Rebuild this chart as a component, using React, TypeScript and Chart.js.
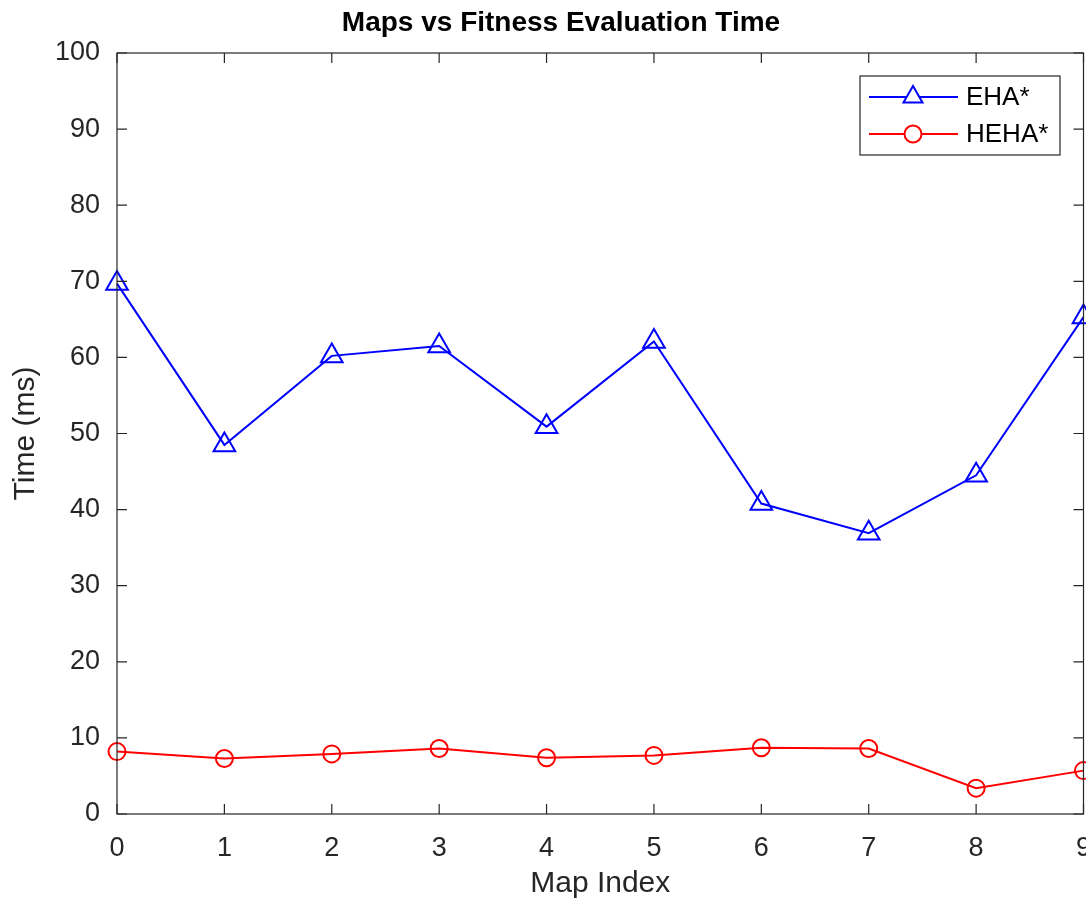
import { useEffect, useRef } from "react";
import { Chart, registerables } from "chart.js";

Chart.register(...registerables);

const mapIndex = ["0", "1", "2", "3", "4", "5", "6", "7", "8", "9"];
const ehaTimes = [69.7, 48.5, 60.2, 61.5, 50.9, 62.1, 40.8, 36.9, 44.5, 65.3];
const hehaTimes = [8.2, 7.3, 7.9, 8.6, 7.4, 7.7, 8.7, 8.6, 3.4, 5.7];
const seriesNames = ["EHA*", "HEHA*"];
const chartTitle = "Maps vs Fitness Evaluation Time";
const xTitle = "Map Index";
const yTitle = "Time (ms)";

const FONT = "'Liberation Sans', Arial, Helvetica, sans-serif";
const AXIS = "#262626";
const CANVAS_W = 1098;
const CANVAS_H = 912;

const framePlugin = {
  id: "matlabFrame",
  afterDraw(chart: any) {
    const { ctx, chartArea } = chart;
    const { left, right, top, bottom } = chartArea;
    const xs = chart.scales.x;
    const ys = chart.scales.y;
    ctx.save();
    ctx.strokeStyle = AXIS;
    ctx.lineWidth = 1.2;
    ctx.strokeRect(left, top, right - left, bottom - top);
    const tl = 10;
    ctx.beginPath();
    xs.ticks.forEach((_t: any, i: number) => {
      const px = xs.getPixelForTick(i);
      ctx.moveTo(px, bottom);
      ctx.lineTo(px, bottom - tl);
      ctx.moveTo(px, top);
      ctx.lineTo(px, top + tl);
    });
    ys.ticks.forEach((t: any) => {
      const py = ys.getPixelForValue(t.value);
      ctx.moveTo(left, py);
      ctx.lineTo(left + tl, py);
      ctx.moveTo(right, py);
      ctx.lineTo(right - tl, py);
    });
    ctx.stroke();

    // title
    ctx.fillStyle = "#000";
    ctx.font = `bold 28px ${FONT}`;
    ctx.textAlign = "center";
    ctx.textBaseline = "middle";
    ctx.fillText(chartTitle, 561, 23);

    // legend
    const bx = 860, by = 76, bw = 200, bh = 79;
    ctx.fillStyle = "#fff";
    ctx.fillRect(bx, by, bw, bh);
    ctx.strokeStyle = AXIS;
    ctx.lineWidth = 1.2;
    ctx.strokeRect(bx, by, bw, bh);
    const rows = [97, 134];
    chart.data.datasets.forEach((ds: any, i: number) => {
      const y = rows[i];
      ctx.strokeStyle = ds.borderColor;
      ctx.lineWidth = ds.borderWidth;
      ctx.beginPath();
      ctx.moveTo(869, y);
      ctx.lineTo(958, y);
      ctx.stroke();
      const style = ds.pointStyle;
      const r = style === "triangle" ? 11 : 8.5;
      ctx.lineWidth = ds.pointBorderWidth;
      ctx.beginPath();
      if (style === "triangle") {
        ctx.moveTo(913, y - r);
        ctx.lineTo(913 + r * 0.866, y + r * 0.5);
        ctx.lineTo(913 - r * 0.866, y + r * 0.5);
        ctx.closePath();
      } else {
        ctx.arc(913, y, r, 0, Math.PI * 2);
      }
      ctx.fillStyle = "#fff";
      ctx.fill();
      ctx.stroke();
      ctx.fillStyle = "#000";
      ctx.font = `26px ${FONT}`;
      ctx.textAlign = "left";
      ctx.textBaseline = "middle";
      ctx.fillText(ds.label, 966, y + 1);
    });
    ctx.restore();
  },
};

export default function App() {
  const ref = useRef<HTMLCanvasElement | null>(null);
  useEffect(() => {
    if (!ref.current) return;
    const chart = new Chart(ref.current, {
      type: "line",
      data: {
        labels: mapIndex,
        datasets: [
          {
            label: seriesNames[0],
            data: ehaTimes,
            borderColor: "#0000ff",
            backgroundColor: "rgba(0,0,0,0)",
            borderWidth: 2,
            pointStyle: "triangle",
            pointRadius: 12.5,
            pointBorderWidth: 2,
            pointBorderColor: "#0000ff",
            pointBackgroundColor: "rgba(0,0,0,0)",
            tension: 0,
          },
          {
            label: seriesNames[1],
            data: hehaTimes,
            borderColor: "#ff0000",
            backgroundColor: "rgba(0,0,0,0)",
            borderWidth: 2,
            pointStyle: "circle",
            pointRadius: 8.5,
            pointBorderWidth: 2,
            pointBorderColor: "#ff0000",
            pointBackgroundColor: "rgba(0,0,0,0)",
            tension: 0,
          },
        ],
      },
      options: {
        responsive: false,
        animation: false,
        devicePixelRatio: 1,
        layout: { padding: { top: 53, right: 3, left: 0, bottom: 0 } },
        plugins: {
          legend: { display: false },
          title: { display: false },
          tooltip: { enabled: false },
        },
        scales: {
          x: {
            type: "category",
            offset: false,
            grid: { display: false, drawTicks: false },
            border: { display: false },
            ticks: {
              color: AXIS,
              font: { family: FONT, size: 27 },
              padding: 18,
              maxRotation: 0,
              autoSkip: false,
            },
            title: {
              display: true,
              text: xTitle,
              color: AXIS,
              font: { family: FONT, size: 30 },
              padding: { bottom: 10 },
            },
            afterFit(scale: any) {
              scale.height = 98;
              scale.paddingLeft = 0;
              scale.paddingRight = 0;
            },
          },
          y: {
            type: "linear",
            min: 0,
            max: 100,
            grid: { display: false, drawTicks: false },
            border: { display: false },
            ticks: {
              stepSize: 10,
              color: AXIS,
              font: { family: FONT, size: 27 },
              padding: 17,
            },
            title: {
              display: true,
              text: yTitle,
              color: AXIS,
              font: { family: FONT, size: 30 },
              padding: { top: 8 },
            },
            afterFit(scale: any) {
              scale.width = 117;
              scale.paddingTop = 0;
              scale.paddingBottom = 0;
            },
          },
        },
      },
      plugins: [framePlugin],
    });
    return () => chart.destroy();
  }, []);
  return (
    <div style={{ position: "absolute", left: 0, top: 0, width: 1086, height: 912, overflow: "hidden", background: "#fff" }}>
      <canvas ref={ref} width={CANVAS_W} height={CANVAS_H} style={{ width: CANVAS_W, height: CANVAS_H, display: "block" }} />
    </div>
  );
}
